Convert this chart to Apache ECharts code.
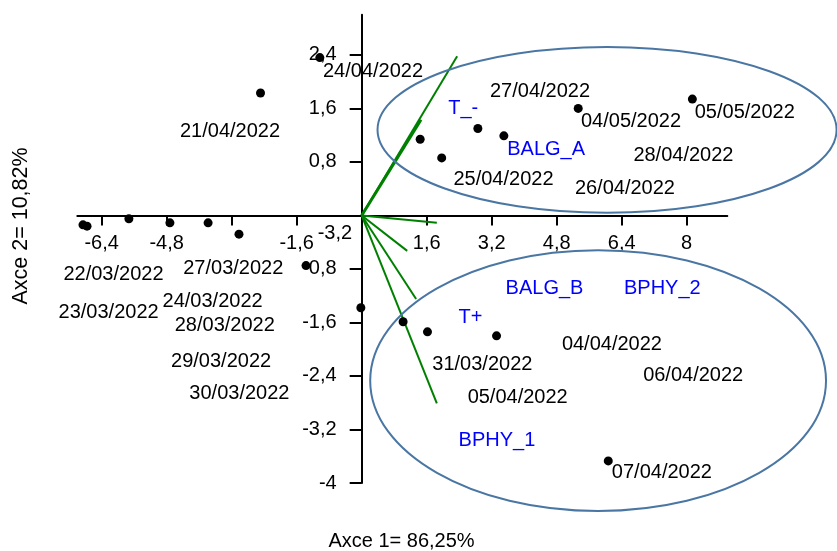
<!DOCTYPE html>
<html>
<head>
<meta charset="utf-8">
<script src="https://cdn.jsdelivr.net/npm/echarts@6/dist/echarts.min.js"></script>
<style>
html,body{margin:0;padding:0;background:#fff;}
#chart{width:837px;height:551px;}
</style>
</head>
<body>
<div id="chart"></div>
<script>
// Observation scores (Axe 1, Axe 2)
const obsX = [-1.03, -2.49, 1.44, 1.97, 2.86, 3.50, 5.33, 8.14,
              -6.86, -6.76, -5.73, -4.72, -3.78, -3.02, -1.37, -0.02, 1.02, 1.62, 3.32, 6.07];
const obsY = [2.36, 1.83, 1.14, 0.86, 1.30, 1.19, 1.60, 1.74,
              -0.14, -0.16, -0.05, -0.11, -0.11, -0.28, -0.75, -1.38, -1.59, -1.74, -1.80, -3.67];

// Date labels, anchored in data coordinates
const dateText = ['24/04/2022','21/04/2022','27/04/2022','04/05/2022','05/05/2022','28/04/2022','25/04/2022','26/04/2022',
                  '22/03/2022','27/03/2022','24/03/2022','23/03/2022','28/03/2022','29/03/2022','30/03/2022',
                  '31/03/2022','04/04/2022','06/04/2022','05/04/2022','07/04/2022'];
const dateX = [0.28, -3.24, 4.39, 6.63, 9.43, 7.92, 3.49, 6.48,
               -6.11, -3.16, -3.67, -6.23, -3.37, -3.46, -3.01,
               2.97, 6.16, 8.16, 3.84, 7.39];
const dateY = [2.15, 1.25, 1.85, 1.40, 1.54, 0.89, 0.54, 0.41,
               -0.88, -0.79, -1.29, -1.45, -1.64, -2.19, -2.66,
               -2.23, -1.93, -2.40, -2.72, -3.85];

// Variable vectors (loadings) and their labels
const varNames = ['T_-', 'BALG_A', 'BALG_B', 'BPHY_2', 'T+', 'BPHY_1'];
const vecX = [2.35, 1.46, 1.85, 1.12, 1.34, 1.85];
const vecY = [2.38, 1.43, -0.11, -0.53, -1.25, -2.81];
const varLabX = [2.50, 4.54, 4.50, 7.40, 2.68, 3.33];
const varLabY = [1.60, 0.99, -1.09, -1.09, -1.52, -3.36];

// Group ellipses (data units)
const ellCX = [6.04, 5.82];
const ellCY = [1.28, -2.47];
const ellRX = [5.65, 5.61];
const ellRY = [1.24, 1.95];

// Axis ticks and labels
const xTicks = [-6.4, -4.8, -3.2, -1.6, 1.6, 3.2, 4.8, 6.4, 8];
const xLabels = [-6.4, -4.8, -1.6, 1.6, 3.2, 4.8, 6.4, 8];
const yTicks = [-4, -3.2, -2.4, -1.6, -0.8, 0.8, 1.6, 2.4];
const strayLabel = {text: '-3,2', x: -0.66, y: -0.27};
const xTitle = 'Axce 1= 86,25%';
const yTitle = 'Axce 2= 10,82%';

const FONT = '"Liberation Sans", Arial, sans-serif';
const fmt = v => String(Math.round(v * 10) / 10).replace('.', ',');

const GRID = {left: 77.3, right: 109.7, top: 14.8, bottom: 68};
const W = 837, H = 551;
const XMIN = -7, XMAX = 9, YMIN = -4, YMAX = 3;
const plotW = W - GRID.left - GRID.right;
const plotH = H - GRID.top - GRID.bottom;
// offsets to move the axes so they cross at (0,0)
const xAxisOffset = -(0 - YMIN) / (YMAX - YMIN) * plotH;
const yAxisOffset = -(0 - XMIN) / (XMAX - XMIN) * plotW;

const chart = echarts.init(document.getElementById('chart'), null, {renderer: 'canvas'});

const series = [];
vecX.forEach((vx, i) => {
  series.push({
    type: 'line',
    data: [[0, 0], [vx, vecY[i]]],
    symbol: 'none',
    silent: true,
    clip: false,
    lineStyle: {color: '#008000', width: i === 1 ? 3 : 2},
    z: 3
  });
});
series.push({
  type: 'scatter',
  data: obsX.map((x, i) => [x, obsY[i]]),
  symbolSize: 9,
  itemStyle: {color: '#000', opacity: 1},
  clip: false,
  z: 5
});
const labelSeries = (xs, ys, names, color) => ({
  type: 'scatter',
  data: xs.map((x, i) => ({value: [x, ys[i]], name: names[i]})),
  symbolSize: 0,
  clip: false,
  silent: true,
  itemStyle: {color: color, opacity: 1},
  label: {show: true, position: 'inside', formatter: p => p.name, color: color, opacity: 1,
          fontSize: 20, fontFamily: FONT, textBorderWidth: 0},
  z: 6
});
series.push(labelSeries(dateX, dateY, dateText, '#000000'));
series.push(labelSeries(varLabX, varLabY, varNames, '#0000ff'));
series.push(labelSeries([strayLabel.x], [strayLabel.y], [strayLabel.text], '#000000'));

const option = {
  animation: false,
  backgroundColor: '#fff',
  grid: Object.assign({containLabel: false}, GRID),
  xAxis: {
    type: 'value', min: XMIN, max: XMAX, position: 'bottom', offset: xAxisOffset,
    axisLine: {onZero: false, lineStyle: {color: '#000', width: 2}},
    axisTick: {show: true, customValues: xTicks, length: 10, lineStyle: {color: '#000', width: 2}},
    axisLabel: {customValues: xLabels, formatter: fmt, color: '#000', fontSize: 20, fontFamily: FONT, margin: 18},
    splitLine: {show: false}
  },
  yAxis: {
    type: 'value', min: YMIN, max: YMAX, position: 'left', offset: yAxisOffset,
    axisLine: {onZero: false, lineStyle: {color: '#000', width: 2}},
    axisTick: {show: true, customValues: yTicks, length: 12, lineStyle: {color: '#000', width: 2}},
    axisLabel: {customValues: yTicks, formatter: fmt, color: '#000', fontSize: 20, fontFamily: FONT, margin: 25},
    splitLine: {show: false}
  },
  series: series
};
chart.setOption(option);

// ellipses and axis titles
const graphics = [];
ellCX.forEach((cx, i) => {
  const c = chart.convertToPixel({gridIndex: 0}, [cx, ellCY[i]]);
  const e = chart.convertToPixel({gridIndex: 0}, [cx + ellRX[i], ellCY[i] + ellRY[i]]);
  graphics.push({
    type: 'ellipse',
    shape: {cx: c[0], cy: c[1], rx: Math.abs(e[0] - c[0]), ry: Math.abs(e[1] - c[1])},
    style: {fill: 'none', stroke: '#4a76a3', lineWidth: 2},
    silent: true,
    z: 4
  });
});
graphics.push({
  type: 'text', x: 401.5, y: 541.7,
  style: {text: xTitle, font: '20px ' + FONT, fill: '#000', textAlign: 'center', textVerticalAlign: 'middle'}
});
graphics.push({
  type: 'text', x: 21, y: 226, rotation: Math.PI / 2,
  style: {text: yTitle, font: '21.5px ' + FONT, fill: '#000', textAlign: 'center', textVerticalAlign: 'middle'}
});
chart.setOption({graphic: graphics});
</script>
</body>
</html>
